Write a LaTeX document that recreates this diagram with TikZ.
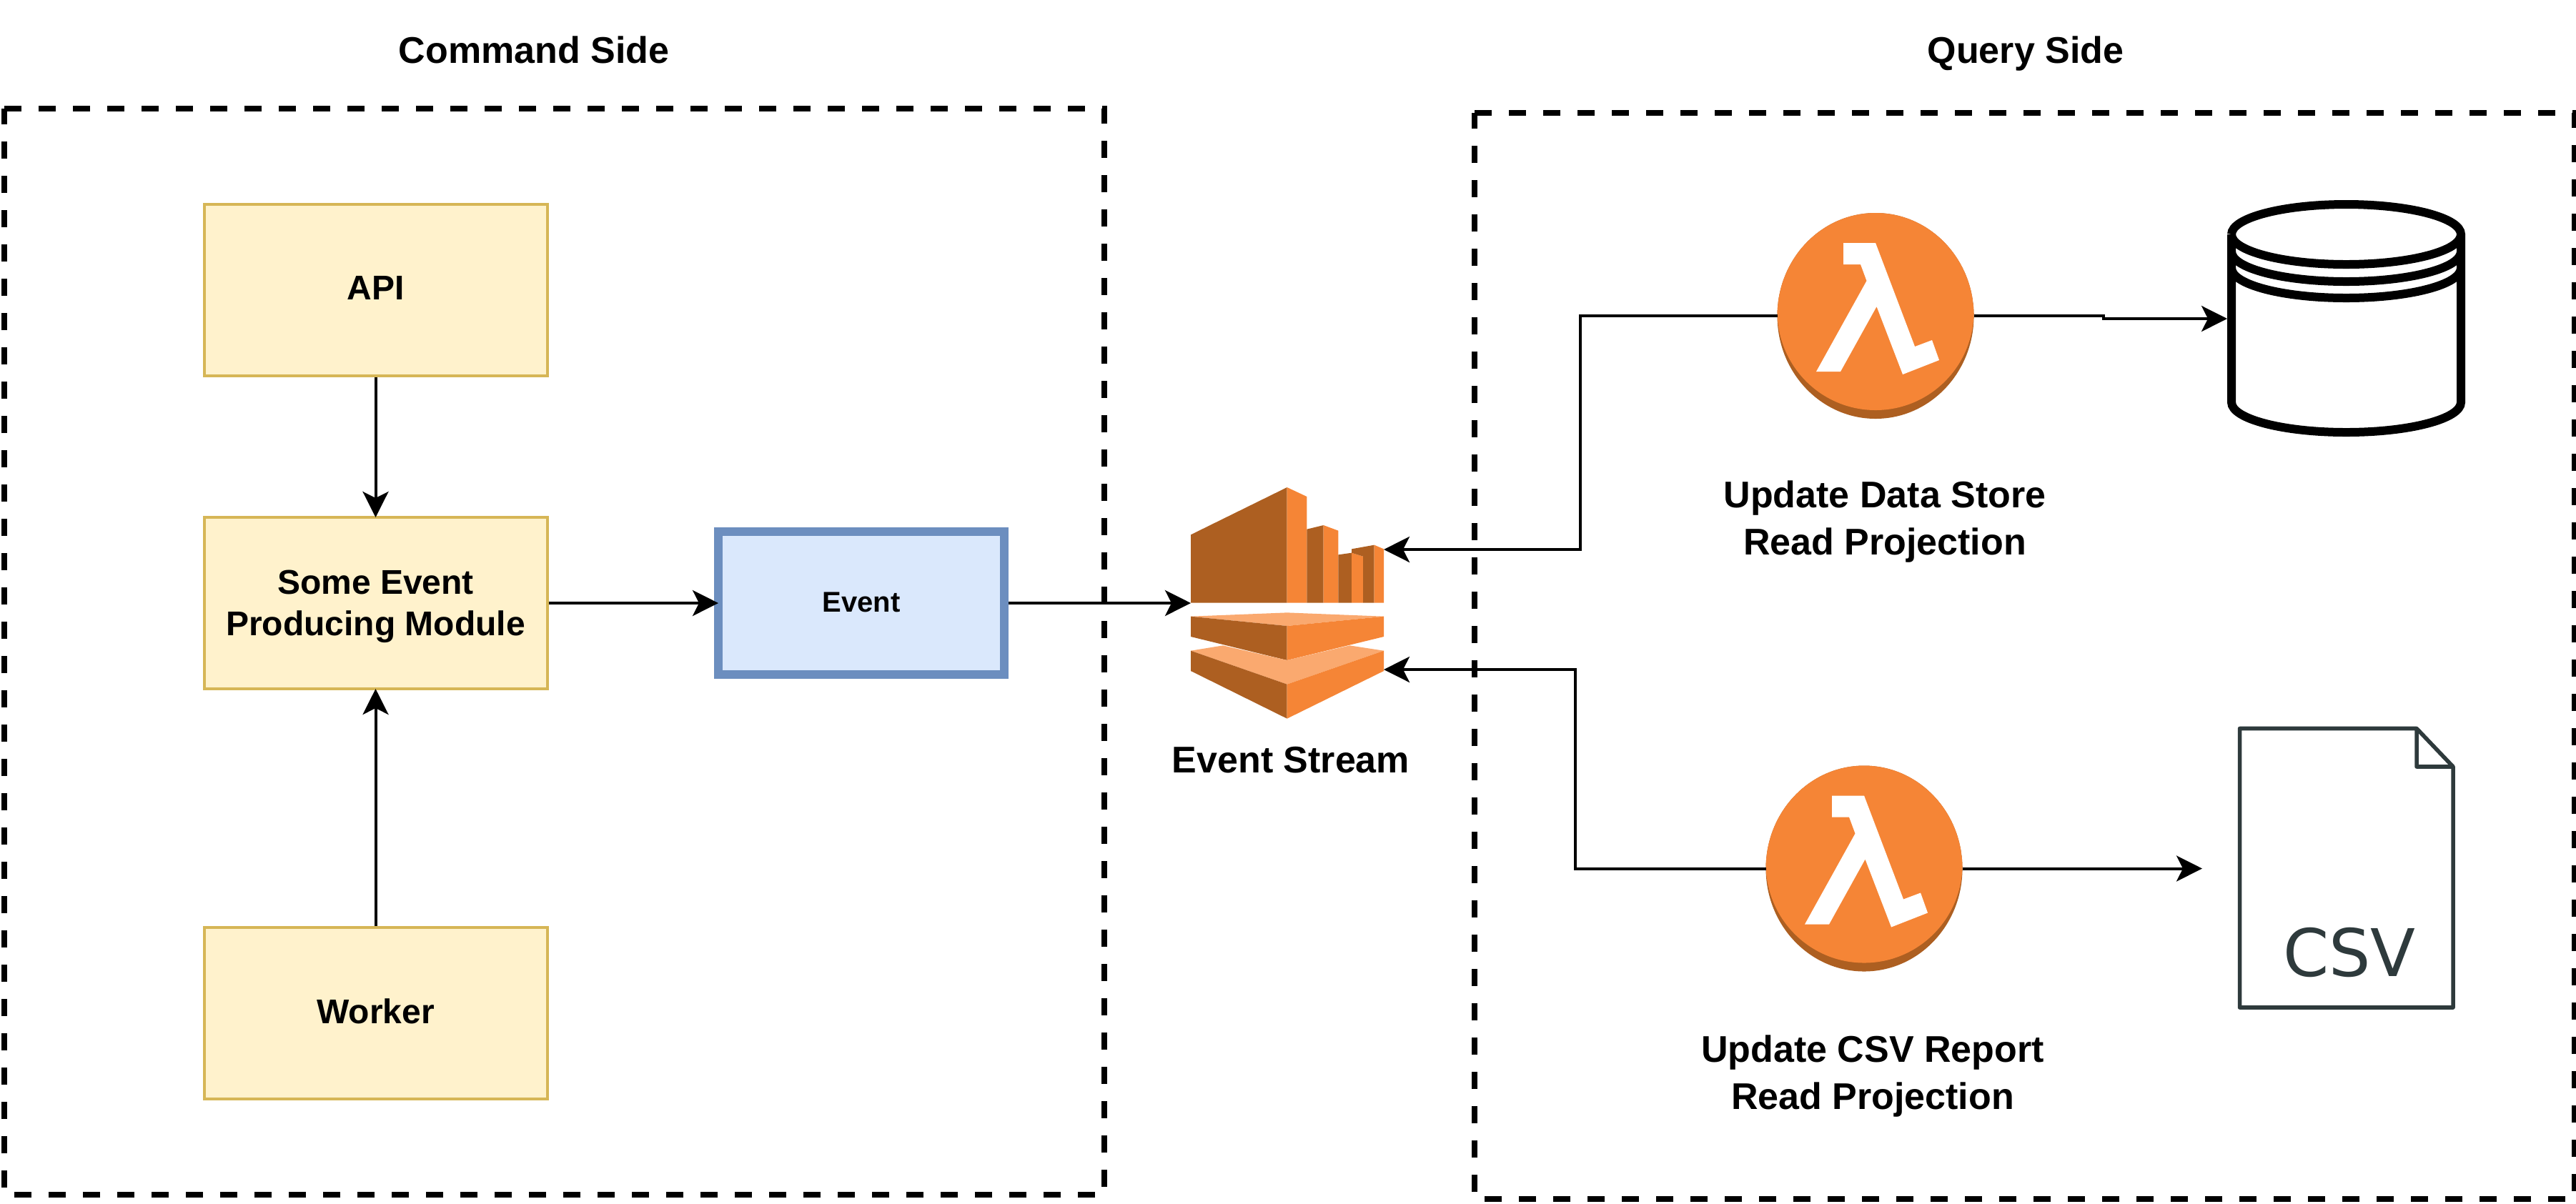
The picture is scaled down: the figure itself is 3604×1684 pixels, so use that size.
\documentclass[tikz,border=0pt]{standalone}
\usepackage{fontspec}
\setmainfont{Liberation Sans}
\newfontfamily\csvfont{DejaVu Sans}
\usetikzlibrary{arrows.meta,shapes.geometric}
\definecolor{awsorange}{HTML}{F58536}
\definecolor{awsdark}{HTML}{AD5F21}
\definecolor{awslight}{HTML}{FAA96F}
\definecolor{docgrey}{HTML}{2E3A3C}
\definecolor{modulefill}{HTML}{FFF2CC}
\definecolor{moduleline}{HTML}{D6B656}
\definecolor{eventfill}{HTML}{DAE8FC}
\definecolor{eventline}{HTML}{6C8EBF}

\begin{document}
\begin{tikzpicture}[x=.25pt,y=-.25pt,
    conn/.style={line width=1pt,-{Stealth[length=9pt,width=9pt,inset=2.25pt]}},
    sideline/.style={line width=2pt,dash pattern=on 6pt off 6pt},
    modulebox/.style={draw=moduleline,fill=modulefill,line width=1pt,outer sep=0pt,inner sep=0pt,
        minimum width=120pt,minimum height=60pt,align=center,text depth=1.5pt,
        font=\fontsize{12}{14.4}\selectfont\bfseries},
    lbl/.style={align=center,inner sep=0pt,font=\fontsize{13}{16.5}\selectfont\bfseries},
    lambdaicon/.style={ellipse,fill=awsdark,inner sep=0pt,outer sep=0pt,
        minimum width=68.75pt,minimum height=72pt,
        path picture={
            \begin{scope}[shift={(path picture bounding box.center)}]
                \fill[awsorange] (0,-6) ellipse[x radius=137.5,y radius=138];
                \fill[white] (-45,-102)--(0,-102)--(55,43)--(79,34)--(89,62)--(38,82)
                    --(1.5,-13)--(-49,78)--(-83,78)--(-12.5,-49)--(-21,-72)--(-45,-72)--cycle;
            \end{scope}
        }}]
    \useasboundingbox (0,0) rectangle (3604,1684);
    % side frames
    \draw[sideline] (6,152)--(1545,152)--(1545,1672)--(6,1672)--cycle;
    \draw[sideline] (2063,158)--(3602,158)--(3602,1678)--(2063,1678)--cycle;
    \node[lbl,anchor=base] at (747,88) (cmdtitle) {Command Side};
    \node[lbl,anchor=base] at (2834,88) (qrytitle) {Query Side};

    \node[modulebox] at (525.5,406) (api) {API};
    \node[modulebox,text depth=0pt] at (525.5,844) (producer) {Some Event\\Producing Module};
    \node[modulebox] at (525.5,1418) (worker) {Worker};
    \node[draw=eventline,fill=eventfill,line width=3pt,outer sep=0pt,minimum width=100pt,minimum height=50pt,
        text depth=.5pt,font=\fontsize{10}{12}\selectfont\bfseries] at (1205,844) (event) {Event};

    % event stream icon
    \node[minimum width=67.5pt,minimum height=81pt,inner sep=0pt,outer sep=0pt] at (1801,844) (stream) {};
    \begin{scope}[shift={(1600,640)},scale=1/3]
        \fill[awsdark] (198,325)--(602,126)--(602,611)--(198,611)--cycle;
        \fill[awsorange] (602,126)--(685,165)--(685,611)--(602,611)--cycle;
        \fill[awsdark] (685,302)--(755,285)--(755,611)--(685,611)--cycle;
        \fill[awsorange] (755,285)--(817,308)--(817,611)--(755,611)--cycle;
        \fill[awsdark] (817,409)--(873,401)--(873,611)--(817,611)--cycle;
        \fill[awsorange] (873,401)--(921,416)--(921,611)--(873,611)--cycle;
        \fill[awsdark] (873,385)--(968,368)--(968,611)--(921,611)--(921,416)--(873,401)--cycle;
        \fill[awsorange] (968,368)--(1008,385)--(1008,611)--(968,611)--cycle;
        \fill[awslight] (198,668)--(602,652)--(1008,668)--(602,708)--cycle;
        \fill[awsdark] (198,668)--(602,708)--(602,852)--(198,753)--cycle;
        \fill[awsorange] (602,708)--(1008,668)--(1008,753)--(602,852)--cycle;
        \fill[awslight] (198,812)--(333,790)--(602,852)--(865,790)--(1008,812)--(602,953)--cycle;
        \fill[awsdark] (198,812)--(602,953)--(602,1097)--(198,897)--cycle;
        \fill[awsorange] (602,953)--(1008,812)--(1008,897)--(602,1097)--cycle;
    \end{scope}
    \node[lbl] at (1806,1064) (streamlbl) {Event Stream};

    \node[lambdaicon] at (2624,442) (lambdaone) {};
    \node[lambdaicon] at (2608,1215.5) (lambdatwo) {};
    \node[lbl] at (2637,730) (lambdaonelbl) {Update Data Store\\Read Projection};
    \node[lbl] at (2620,1506) (lambdatwolbl) {Update CSV Report\\Read Projection};

    % data store
    \node[minimum width=83.25pt,minimum height=83pt,inner sep=0pt,outer sep=0pt] at (3282.5,446) (store) {};
    \draw[line width=3pt] (3122,328) arc[start angle=180,end angle=-180,x radius=160.5,y radius=42]
        (3122,328)--(3122,563) arc[start angle=180,end angle=0,x radius=160.5,y radius=42]--(3443,328)
        (3122,352) arc[start angle=180,end angle=0,x radius=160.5,y radius=42]
        (3122,375) arc[start angle=180,end angle=0,x radius=160.5,y radius=42];

    % csv file
    \draw[docgrey,line width=1.4pt,line join=round] (3133.5,1019.5)--(3381,1019.5)--(3432,1073)--(3432,1410)
        --(3133.5,1410)--cycle (3381,1019.5)--(3381,1073)--(3432,1073);
    \node[text=docgrey,inner sep=0pt,font=\csvfont\fontsize{23}{27}\selectfont] at (3287,1333) (csvlbl) {CSV};

    % connectors
    \coordinate (streamup) at (1936,769);
    \coordinate (streamdown) at (1936,937);
    \coordinate (bendone) at (2211,442);
    \coordinate (bendtwo) at (2204,1215.5);
    \coordinate (jogone) at (2943,442);
    \coordinate (csvtip) at (3081,1215.5);
    \draw[conn,shorten <=.5pt] (api)--(producer);
    \draw[conn,shorten <=.5pt] (worker)--(producer);
    \draw[conn,shorten <=.5pt] (producer)--(event);
    \draw[conn,shorten <=1.5pt] (event)--(stream.west);
    \draw[conn] (lambdaone.west)--(bendone)|-(streamup);
    \draw[conn] (lambdatwo.west)--(bendtwo)|-(streamdown);
    \draw[conn] (lambdaone.east)--(jogone)|-(store.west);
    \draw[conn] (lambdatwo.east)--(csvtip);
\end{tikzpicture}
\end{document}
